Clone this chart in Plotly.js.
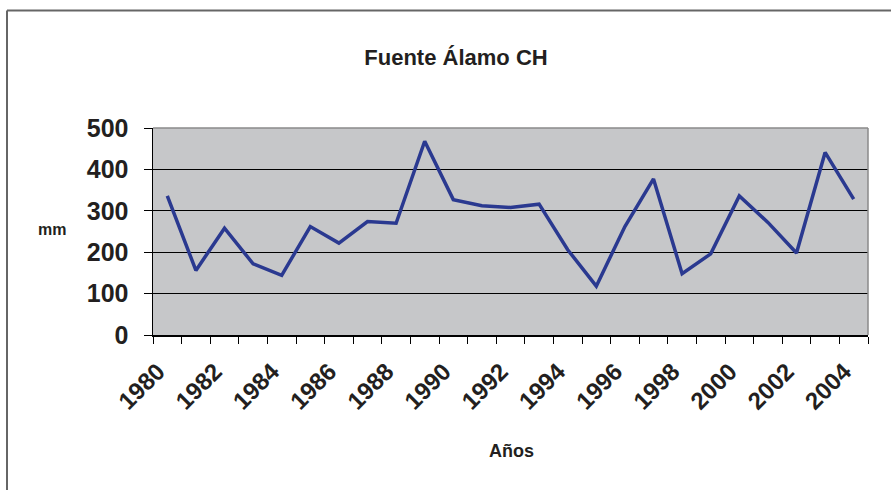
<!DOCTYPE html>
<html>
<head>
<meta charset="utf-8">
<script src="https://cdn.plot.ly/plotly-3.0.1.min.js"></script>
<style>html,body{margin:0;padding:0;background:#fff}#chart{width:891px;height:490px}</style>
</head>
<body>
<div id="chart"></div>
<script>
const years = ["1980","1981","1982","1983","1984","1985","1986","1987","1988","1989","1990","1991","1992","1993","1994","1995","1996","1997","1998","1999","2000","2001","2002","2003","2004"];
const rainfall = [336,156,258,172,144,262,222,274,270,468,327,312,308,316,206,118,262,377,148,196,336,272,198,441,328];
const tickLabels = years.map((y, i) => (i % 2 === 0 ? y + "\u00A0\u00A0" : ""));
const chartTitle = "Fuente Álamo CH";
const xTitle = "Años";
const yTitle = "mm";

const W = 891, H = 490, L = 153, R = 23, T = 128, B = 155;
const pw = W - L - R, ph = H - T - B;
const px = x => (x - L) / pw;
const py = y => (H - B - y) / ph;

const font = "Liberation Sans, Arial, sans-serif";

Plotly.newPlot("chart", [{
  x: years, y: rainfall, type: "scatter", mode: "lines",
  line: {color: "#2a3990", width: 3.5},
  hoverinfo: "skip"
}], {
  width: W, height: H,
  margin: {l: L, r: R, t: T, b: B, pad: 0},
  paper_bgcolor: "#ffffff",
  plot_bgcolor: "#c6c7c9",
  showlegend: false,
  font: {family: font, color: "#231f20"},
  title: {text: "<b>" + chartTitle + "</b>", x: 456 / W, xref: "container", xanchor: "center",
          y: 1 - 57 / H, yref: "container", yanchor: "middle",
          font: {size: 22, family: font, color: "#231f20"}},
  xaxis: {
    type: "category", range: [-0.5, years.length - 0.5], tickson: "boundaries", tickvals: years, ticktext: tickLabels,
    tickangle: -45, ticks: "outside", ticklen: 7, tickcolor: "#000", tickwidth: 1,
    showline: true, linecolor: "#000", linewidth: 1.5, showgrid: false, zeroline: false,
    ticklabelstandoff: 2,
    tickfont: {size: 24, family: font, weight: "bold", color: "#231f20"},
    automargin: false, fixedrange: true
  },
  yaxis: {
    range: [0, 500], tickvals: [0, 100, 200, 300, 400, 500], ticks: "outside", ticklen: 8,
    tickcolor: "#000", tickwidth: 1, showline: true, linecolor: "#000", linewidth: 1.5,
    showgrid: true, gridcolor: "#000", gridwidth: 1, zeroline: false,
    ticklabelstandoff: 10,
    tickfont: {size: 25, family: font, weight: "bold", color: "#231f20"},
    automargin: false, fixedrange: true
  },
  annotations: [
    {text: "<b>" + yTitle + "</b>", xref: "paper", yref: "paper", x: px(52), y: py(229),
     xanchor: "center", yanchor: "middle", showarrow: false, font: {size: 16, family: font, color: "#231f20"}},
    {text: "<b>" + xTitle + "</b>", xref: "paper", yref: "paper", x: px(511), y: py(451),
     xanchor: "center", yanchor: "middle", showarrow: false, font: {size: 18, family: font, color: "#231f20"}}
  ],
  shapes: [
    {type: "line", xref: "paper", yref: "paper", x0: 0, x1: 1, y0: 1, y1: 1, line: {color: "#8a8a8a", width: 1.5}},
    {type: "line", xref: "paper", yref: "paper", x0: 1, x1: 1, y0: 0, y1: 1, line: {color: "#8a8a8a", width: 1.5}},
    {type: "line", xref: "paper", yref: "paper", x0: px(7), x1: px(7), y0: py(10.5), y1: py(500), line: {color: "#666", width: 2}},
    {type: "line", xref: "paper", yref: "paper", x0: px(7), x1: px(900), y0: py(10.5), y1: py(10.5), line: {color: "#666", width: 2}}
  ]
}, {staticPlot: true, displayModeBar: false});
</script>
</body>
</html>
